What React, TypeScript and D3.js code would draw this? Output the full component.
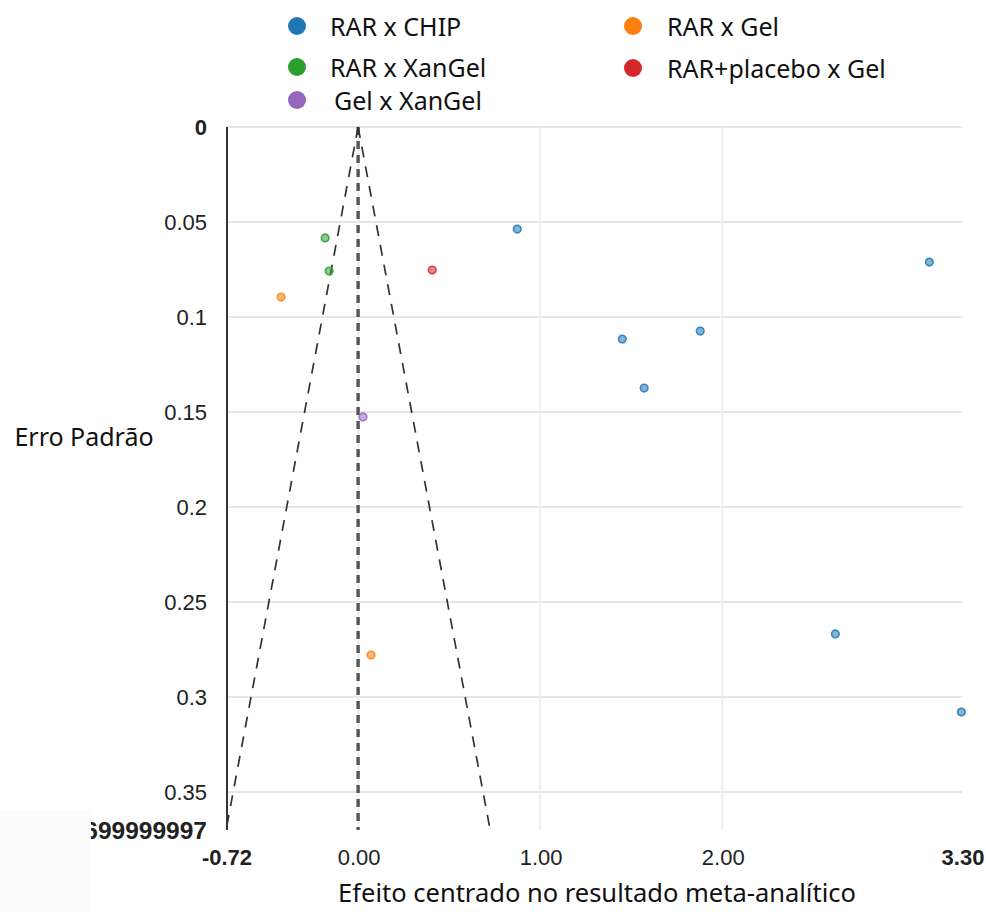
import React from "react";
import * as d3 from "d3";

const seriesNames = ["RAR x CHIP", "RAR x Gel", "RAR x XanGel", "RAR+placebo x Gel", "Gel x XanGel"];
const seriesColors = ["#1f77b4", "#ff7f0e", "#2ca02c", "#d62728", "#9467bd"];

const chipEffect = [0.874, 3.137, 1.879, 1.451, 1.571, 2.621, 3.313];
const chipSE = [0.0537, 0.0711, 0.1074, 0.1116, 0.1374, 0.2668, 0.3079];
const gelEffect = [-0.423, 0.071];
const gelSE = [0.0895, 0.2779];
const xanEffect = [-0.181, -0.159];
const xanSE = [0.0584, 0.0758];
const placeboEffect = [0.407];
const placeboSE = [0.0753];
const gelXanEffect = [0.027];
const gelXanSE = [0.1526];

const yTicks = [0, 0.05, 0.1, 0.15, 0.2, 0.25, 0.3, 0.35, 0.37];
const yTickLabels = ["0", "0.05", "0.1", "0.15", "0.2", "0.25", "0.3", "0.35", "0.3699999997"];
const yTickBold = [true, false, false, false, false, false, false, false, true];
const xTicks = [-0.72, 0, 1, 2, 3.3];
const xTickLabels = ["-0.72", "0.00", "1.00", "2.00", "3.30"];
const xTickBold = [true, false, false, false, true];
const xGrid = [0, 1, 2];

const seMax = 0.37;
const z = 1.96;

export default function App() {
  const W = 986, H = 912;
  const x = d3.scaleLinear().domain([-0.72, 3.3]).range([227, 959]);
  const y = d3.scaleLinear().domain([0, 0.37]).range([127, 830]);

  const series = [
    { e: chipEffect, s: chipSE, c: 0 },
    { e: gelEffect, s: gelSE, c: 1 },
    { e: xanEffect, s: xanSE, c: 2 },
    { e: placeboEffect, s: placeboSE, c: 3 },
    { e: gelXanEffect, s: gelXanSE, c: 4 },
  ];

  const line = d3.line<[number, number]>().x(d => x(d[0])).y(d => y(d[1]));
  const leftFunnel: [number, number][] = [[0, 0], [-z * seMax, seMax]];
  const rightFunnel: [number, number][] = [[0, 0], [z * seMax, seMax]];
  const centre: [number, number][] = [[0, 0], [0, seMax]];

  const legend = [
    { i: 0, lx: 297, ly: 26, tx: 330 },
    { i: 2, lx: 297, ly: 67, tx: 330 },
    { i: 4, lx: 297, ly: 100, tx: 334 },
    { i: 1, lx: 633, ly: 26, tx: 667 },
    { i: 3, lx: 633, ly: 68, tx: 667 },
  ];

  const tickFont = "'Liberation Sans', Arial, sans-serif";
  const labFont = "'Noto Sans', 'Open Sans', sans-serif";

  return (
    <svg width={W} height={H} style={{ position: "absolute", left: 0, top: 0, background: "#fff" }}>
      <rect x={0} y={0} width={W} height={H} fill="#fff" />
      {/* grid */}
      {yTicks.slice(0, 8).map((t, i) => (
        <line key={"hg" + i} x1={x(-0.72)} x2={962} y1={y(t)} y2={y(t)} stroke="#e6e6e6" strokeWidth={2} />
      ))}
      {xGrid.map((t, i) => (
        <line key={"vg" + i} x1={x(t)} x2={x(t)} y1={y(0)} y2={y(0.37)} stroke="#ececec" strokeWidth={1.6} />
      ))}
      {/* axis */}
      <line x1={x(-0.72)} x2={x(-0.72)} y1={y(0)} y2={y(0.37)} stroke="#333" strokeWidth={2} />
      {/* funnel */}
      <path d={line(centre) || ""} stroke="#555" strokeWidth={3.4} strokeDasharray="8,6" fill="none" />
      <path d={line(leftFunnel) || ""} stroke="#333" strokeWidth={1.7} strokeDasharray="11,9" fill="none" />
      <path d={line(rightFunnel) || ""} stroke="#333" strokeWidth={1.7} strokeDasharray="11,9" fill="none" />
      {/* points */}
      {series.map((sr, si) =>
        sr.e.map((v, j) => (
          <circle key={si + "-" + j} cx={x(v)} cy={y(sr.s[j])} r={3.8}
            fill={seriesColors[sr.c]} fillOpacity={0.55}
            stroke={seriesColors[sr.c]} strokeOpacity={0.85} strokeWidth={1.6} />
        ))
      )}
      {/* y tick labels */}
      {yTicks.map((t, i) => (
        <text key={"yl" + i} x={207} y={y(t)} dy="0.35em" textAnchor="end"
          fontFamily={tickFont} fontSize={i === 8 ? 24.5 : 22} fontWeight={yTickBold[i] ? "bold" : "normal"} fill="#222">
          {yTickLabels[i]}
        </text>
      ))}
      {/* x tick labels */}
      {xTicks.map((t, i) => (
        <text key={"xl" + i} x={x(t) + (i === 0 ? 0 : i === 4 ? 4 : 1)} y={857} dy="0.35em" textAnchor="middle"
          fontFamily={tickFont} fontSize={22} fontWeight={xTickBold[i] ? "bold" : "normal"} fill="#222">
          {xTickLabels[i]}
        </text>
      ))}
      {/* cover patch bottom-left */}
      <rect x={0} y={810} width={91} height={102} fill="#fbfbfb" />
      {/* axis titles */}
      <text x={597} y={902} textAnchor="middle" fontFamily={labFont} fontSize={25.5} fill="#111">
        Efeito centrado no resultado meta-analítico
      </text>
      <text x={84} y={446} textAnchor="middle" fontFamily={labFont} fontSize={25} fill="#111">
        Erro Padrão
      </text>
      {/* legend */}
      {legend.map((l, k) => (
        <g key={"lg" + k}>
          <circle cx={l.lx} cy={l.ly} r={9} fill={seriesColors[l.i]} />
          <text x={l.tx} y={l.ly + 1} dy="0.35em" fontFamily={labFont} fontSize={25} fill="#111">
            {seriesNames[l.i]}
          </text>
        </g>
      ))}
    </svg>
  );
}
